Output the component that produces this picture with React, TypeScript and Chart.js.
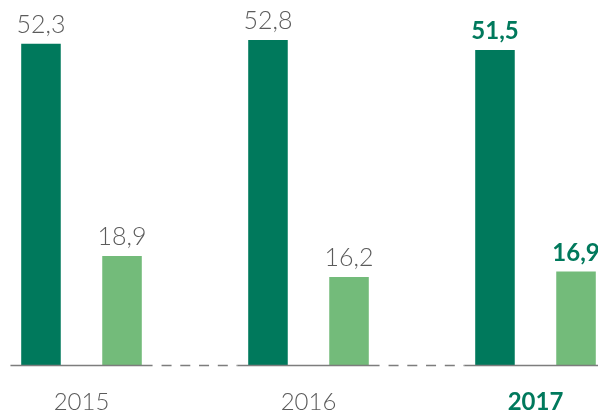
import React, { useEffect, useRef } from "react";
import { Chart, registerables } from "chart.js";

Chart.register(...registerables);

const categories = ["2015", "2016", "2017"];
const seriesA = [52.3, 52.8, 51.5];
const seriesB = [18.9, 16.2, 16.9];
const labelsA = ["52,3", "52,8", "51,5"];
const labelsB = ["18,9", "16,2", "16,9"];

const DARK = "#00795c";
const LIGHT = "#73bb7a";
const TEXT = "#5b5b5b";
const FONT = "Lato";

const baselinePlugin = {
  id: "baseline",
  afterDatasetsDraw(chart: any) {
    const { ctx, chartArea } = chart;
    const x = chart.scales.x;
    const y = chartArea.bottom + 0.5;
    const spacing = x.getPixelForValue(1) - x.getPixelForValue(0);
    const half = spacing * 0.313;
    ctx.save();
    ctx.strokeStyle = "#7d7d7d";
    ctx.lineWidth = 1.6;
    const segs: number[][] = categories.map((_, i) => {
      const c = x.getPixelForValue(i);
      return [c - half, c + half];
    });
    segs.forEach(([a, b]) => {
      ctx.setLineDash([]);
      ctx.beginPath();
      ctx.moveTo(a, y);
      ctx.lineTo(b, y);
      ctx.stroke();
    });
    for (let i = 0; i < segs.length - 1; i++) {
      ctx.setLineDash([10, 8.75]);
      ctx.beginPath();
      ctx.moveTo(segs[i][1] + 9, y);
      ctx.lineTo(segs[i + 1][0], y);
      ctx.stroke();
    }
    ctx.restore();
  },
};

const valueLabelPlugin = {
  id: "valueLabels",
  afterDatasetsDraw(chart: any) {
    const { ctx } = chart;
    const texts = [labelsA, labelsB];
    ctx.save();
    ctx.textAlign = "center";
    ctx.textBaseline = "alphabetic";
    chart.data.datasets.forEach((_: any, di: number) => {
      const meta = chart.getDatasetMeta(di);
      meta.data.forEach((el: any, i: number) => {
        const bold = i === 2;
        ctx.font = bold ? `700 24px ${FONT}` : `300 25px ${FONT}`;
        ctx.fillStyle = bold ? DARK : TEXT;
        ctx.fillText(texts[di][i], el.x, el.y - 11);
      });
    });
    ctx.restore();
  },
};

const barClip = { left: false, right: false, top: false, bottom: 0 };

export default function App() {
  const ref = useRef<HTMLCanvasElement>(null);
  useEffect(() => {
    document.body.style.margin = "0";
    const chart = new Chart(ref.current as HTMLCanvasElement, {
      type: "bar",
      data: {
        labels: categories,
        datasets: [
          {
            data: seriesA,
            backgroundColor: DARK,
            yAxisID: "y",
            categoryPercentage: 0.714,
            barPercentage: 0.488,
            clip: barClip as any,
          },
          {
            data: seriesB,
            backgroundColor: LIGHT,
            yAxisID: "y2",
            categoryPercentage: 0.714,
            barPercentage: 0.488,
            clip: barClip as any,
          },
        ],
      },
      options: {
        responsive: false,
        animation: false,
        devicePixelRatio: 1,
        layout: { padding: { left: 81.5, right: 62.5, top: 0, bottom: 0 } },
        plugins: { legend: { display: false }, tooltip: { enabled: false } },
        scales: {
          x: {
            type: "category",
            offset: false,
            grid: { display: false, drawTicks: false, tickLength: 0 },
            border: { display: false },
            afterFit: (s: any) => {
              s.height = 51;
            },
            ticks: {
              padding: 23,
              maxRotation: 0,
              autoSkip: false,
              color: (c: any) => (c.index === 2 ? DARK : TEXT),
              font: (c: any) =>
                c.index === 2
                  ? { family: FONT, size: 24, weight: "700" }
                  : { family: FONT, size: 24, weight: "300" },
            },
          },
          y: { display: false, min: 10.5, max: 58.0 },
          y2: { display: false, min: 4.9, max: 51.8 },
        },
      },
      plugins: [baselinePlugin, valueLabelPlugin],
    });
    return () => chart.destroy();
  }, []);
  return (
    <div style={{ width: 598, height: 416 }}>
      <canvas ref={ref} width={598} height={416} />
    </div>
  );
}
